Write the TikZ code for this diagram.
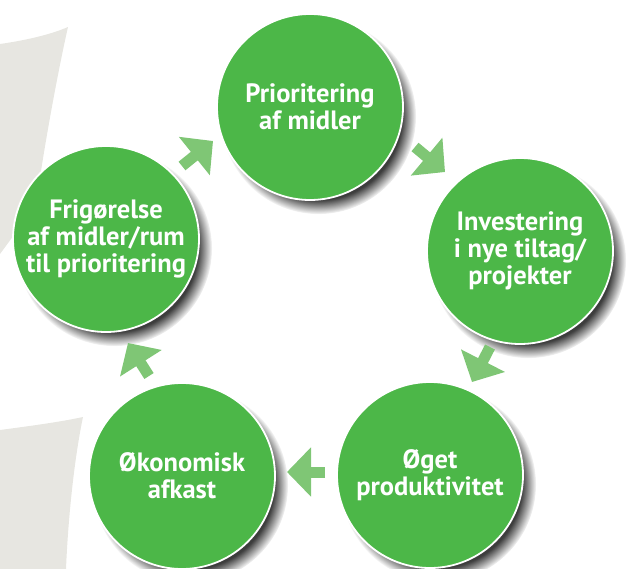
\documentclass[tikz,border=0pt]{standalone}
\usepackage{fontspec}
\setmainfont{PT Sans}
\usepackage{xcolor}
\usetikzlibrary{arrows.meta, shadows}

\definecolor{circgreen}{HTML}{4CB748}
\definecolor{arrowgreen}{HTML}{7FC675}
\definecolor{swoosh}{HTML}{E7E6E1}

\begin{document}
\begin{tikzpicture}[
        x=1pt, y=-1pt,
        % Node styles
        stage/.style={circle, fill=circgreen, draw=white, line width=1.8pt,
                      minimum size=186pt, inner sep=0pt, text=white, align=center,
                      font=\fontsize{26.5}{27}\selectfont\bfseries,
                      circular drop shadow={shadow xshift=8pt, shadow yshift=-9pt,
                                            shadow scale=1.05, fill=black!80, opacity=0.95}},
        flow/.style={line width=11pt, draw=arrowgreen, -{Triangle[length=24pt, width=48pt]}}
    ]
        \useasboundingbox (0,0) rectangle (628,569);
        \clip (0,0) rectangle (628,569);

        % Grey swooshes in the background
        \fill[swoosh] (0,44) .. controls (28,40) and (52,34) .. (68,27)
            .. controls (56,80) and (42,160) .. (36,205) -- (0,254) -- cycle;
        \fill[swoosh] (0,430) .. controls (30,426) and (60,422) .. (83,417)
            .. controls (74,460) and (68,520) .. (66,569) -- (0,569) -- cycle;

        % Stages of the cycle
        \node[stage] (prio) at (310,107) {Prioritering\\af midler};
        \node[stage] (invest) at (520,251) {Investering\\i nye tiltag/\\projekter};
        \node[stage] (produk) at (430,475) {Øget\\produktivitet};
        \node[stage] (afkast) at (182,476) {Økonomisk\\afkast};
        \node[stage] (frig) at (106,239) {Frigørelse\\af midler/rum\\til prioritering};

        % Arrow ends
        \coordinate (frigout) at (182,166);   \coordinate (prioin) at (213,141);
        \coordinate (prioout) at (415,147);   \coordinate (investin) at (445,172);
        \coordinate (investout) at (490,347); \coordinate (produkin) at (472,382);
        \coordinate (produkout) at (325,472); \coordinate (afkastin) at (287,472);
        \coordinate (afkastout) at (149,376); \coordinate (frigin) at (128,343);

        % Arrows
        \draw[flow] (frigout) -- (prioin);
        \draw[flow] (prioout) -- (investin);
        \draw[flow] (investout) -- (produkin);
        \draw[flow] (produkout) -- (afkastin);
        \draw[flow] (afkastout) -- (frigin);
    \end{tikzpicture}
\end{document}
